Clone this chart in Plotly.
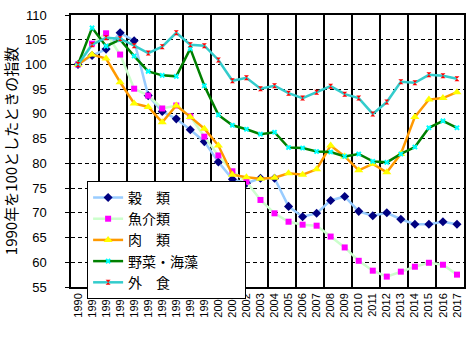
import plotly.graph_objects as go

years = [str(y) for y in range(1990, 2018)]

grains = [100, 101.8, 103.1, 106.4, 104.8, 93.7, 90.5, 89.0, 86.8, 84.4,
          80.3, 76.8, 76.0, 77.0, 77.0, 71.3, 69.2, 69.9, 72.5, 73.3,
          70.3, 69.4, 70.0, 68.7, 67.7, 67.7, 68.2, 67.7]
seafood = [100, 104.2, 106.3, 102.0, 95.1, 93.7, 91.1, 91.7, 89.5, 85.4,
           81.6, 78.4, 76.3, 72.6, 69.9, 68.2, 67.6, 67.4, 65.2, 63.0,
           60.3, 58.3, 57.1, 58.1, 59.1, 59.9, 59.5, 57.5]
meat = [100, 102.0, 101.2, 96.4, 92.1, 91.4, 88.3, 91.7, 89.4, 87.0,
        83.6, 77.7, 77.2, 76.9, 77.1, 78.0, 77.7, 78.8, 83.6, 81.4,
        78.6, 79.9, 78.2, 81.9, 89.4, 92.9, 93.2, 94.4]
vegetables = [100, 107.4, 103.7, 105.0, 101.7, 98.6, 97.8, 97.6, 103.2, 95.7,
              89.8, 87.7, 86.9, 85.9, 86.3, 83.2, 83.1, 82.4, 82.3, 81.4,
              81.9, 80.4, 80.2, 81.9, 83.3, 87.2, 88.6, 87.2]
eating_out = [100, 104.0, 105.4, 105.2, 103.8, 102.3, 103.6, 106.4, 104.0, 103.8,
              100.9, 96.7, 97.3, 95.1, 95.7, 94.2, 93.2, 94.4, 95.6, 94.0,
              93.2, 90.0, 92.4, 96.5, 96.3, 97.9, 97.7, 97.1]

names = ["穀\u3000類", "魚介類", "肉\u3000類", "野菜・海藻", "外\u3000食"]
y_ticks = list(range(55, 111, 5))

idx = list(range(len(years)))
pad = "<span style='color:rgba(0,0,0,0)'>＿＿＿</span>"

fig = go.Figure()
series = [
    (names[0], grains, "#99CCFF", "diamond", "#000080", 7),
    (names[1], seafood, "#CCFFCC", "square", "#FF00FF", 6),
    (names[2], meat, "#FF9900", "triangle-up", "#FFFF00", 8),
    (names[3], vegetables, "#008000", "x", "#00FFFF", 5),
    (names[4], eating_out, "#33CCCC", "hourglass", "#FF0000", 5),
]
for name, vals, lc, sym, mc, ms in series:
    fig.add_trace(go.Scatter(
        x=idx, y=vals, name=name + pad, mode="lines+markers",
        line=dict(color=lc, width=2.5),
        marker=dict(symbol=sym, color=mc, size=ms, line=dict(width=0)),
    ))

font_jp = "Noto Sans CJK JP"
fig.update_layout(
    width=471, height=342,
    margin=dict(l=71, r=7, t=15, b=55, autoexpand=False),
    paper_bgcolor="white", plot_bgcolor="white",
    font=dict(family=font_jp, color="black", size=12),
    showlegend=True,
    legend=dict(
        x=0.041, y=0.39, xanchor="left", yanchor="top",
        bgcolor="white", bordercolor="black", borderwidth=1,
        font=dict(size=14, family=font_jp),
        tracegroupgap=0, itemwidth=30,
    ),
    xaxis=dict(
        range=[-0.5, 27.5], tickmode="array", tickvals=idx, ticktext=years,
        tickangle=-90, tickfont=dict(size=11, family="Liberation Sans"),
        showgrid=False, ticks="", zeroline=False, automargin=False,
        showline=True, mirror=True, linecolor="black", linewidth=1.5,
        minor=dict(tickmode="array", tickvals=[i - 0.5 for i in range(0, 29, 2)],
                   showgrid=True, gridcolor="black", gridwidth=1.5, ticks=""),
    ),
    yaxis=dict(
        range=[55, 110], tickmode="array", tickvals=y_ticks,
        tickfont=dict(size=13, family="Liberation Sans Narrow, Liberation Sans"),
        showgrid=True, gridcolor="black", gridwidth=1, griddash="4px,3px",
        ticks="outside", ticklen=4, tickcolor="black", ticklabelstandoff=16,
        zeroline=False, automargin=False,
        showline=True, mirror=True, linecolor="black", linewidth=1.5,
        title=dict(text="1990年を100としたときの指数", font=dict(size=15, family=font_jp),
                   standoff=6),
    ),
)

fig.write_html("out.html")
